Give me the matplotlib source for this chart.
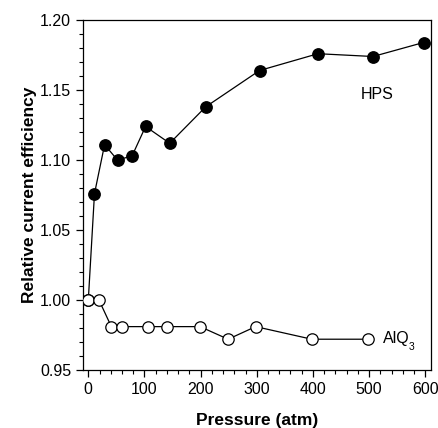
import numpy as np
import matplotlib
matplotlib.use('Agg')
import matplotlib.pyplot as plt
from matplotlib.ticker import MultipleLocator

plt.rcParams['font.family'] = ['Liberation Sans', 'DejaVu Sans']

# HPS (filled)
hps_p = [0, 11, 29, 52, 78, 102, 145, 209, 305, 409, 507, 597]
hps_eff = [1.000, 1.076, 1.111, 1.100, 1.103, 1.124, 1.112, 1.138, 1.164, 1.176, 1.174, 1.184]

# AlQ3 (open)
alq_p = [0, 19, 41, 60, 106, 140, 199, 249, 298, 398, 498]
alq_eff = [1.000, 1.000, 0.981, 0.981, 0.981, 0.981, 0.981, 0.972, 0.981, 0.972, 0.972]

fig = plt.figure(figsize=(4.39, 4.28), dpi=100)
ax = fig.add_axes([0.189, 0.1355, 0.793, 0.8175])

ax.plot(hps_p, hps_eff, '-o', color='black', lw=0.9, ms=8.2,
        mfc='black', mec='black', zorder=2)
ax.plot(alq_p, alq_eff, '-o', color='black', lw=0.9, ms=8.2,
        mfc='white', mec='black', mew=0.9, zorder=3)

ax.text(514, 1.147, 'HPS', fontsize=11.5, ha='center', va='center')
ax.text(525, 0.9725, 'AlQ', fontsize=11.5, ha='left', va='center')
ax.text(570, 0.9665, '3', fontsize=7.5, ha='left', va='center')

ax.set_xlim(-9.5, 610.5)
ax.set_ylim(0.95, 1.20)
ax.xaxis.set_major_locator(MultipleLocator(100))
ax.xaxis.set_minor_locator(MultipleLocator(20))
ax.yaxis.set_major_locator(MultipleLocator(0.05))
ax.yaxis.set_minor_locator(MultipleLocator(0.01))
ax.yaxis.set_major_formatter(matplotlib.ticker.FormatStrFormatter('%.2f'))
ax.tick_params(which='both', direction='out', top=False, right=False, labelsize=11.5)
ax.tick_params(which='major', length=5, width=0.9)
ax.tick_params(which='minor', length=3, width=0.8)
for s in ax.spines.values():
    s.set_linewidth(0.9)

ax.set_xlabel('Pressure (atm)', fontsize=12.5, fontweight='bold', labelpad=12)
ax.set_ylabel('Relative current efficiency', fontsize=12.5, fontweight='bold', labelpad=2)

fig.savefig('out.png', dpi=100)
